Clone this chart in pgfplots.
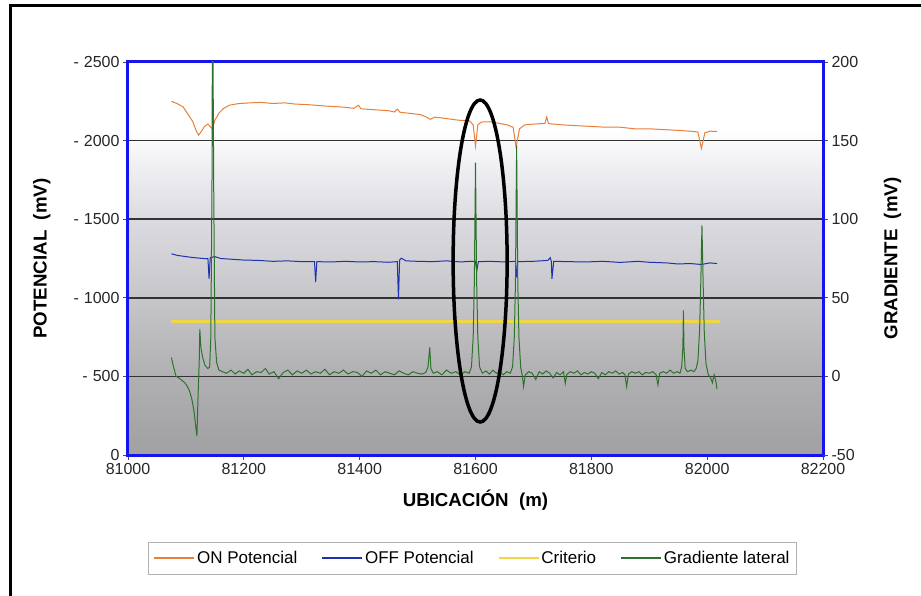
\documentclass[border=0pt]{standalone}
\usepackage{fontspec}
\setmainfont{Liberation Sans}
\newfontfamily\vfont{Liberation Sans}
\usepackage{pgfplots}
\pgfplotsset{compat=1.18}
\definecolor{oncol}{RGB}{232,128,58}
\definecolor{offcol}{RGB}{30,50,175}
\definecolor{critcol}{RGB}{240,215,70}
\definecolor{gradcol}{RGB}{45,115,45}
\definecolor{frameblue}{RGB}{20,20,235}
\definecolor{bgA}{RGB}{163,163,165}
\definecolor{bgB}{RGB}{176,176,178}
\definecolor{bgC}{RGB}{198,198,202}
\definecolor{bgD}{RGB}{218,218,224}
\definecolor{bgE}{RGB}{238,238,242}
\pgfdeclareverticalshading{plotbg}{100bp}{color(0bp)=(bgA); color(25bp)=(bgA); color(27bp)=(bgA); color(35bp)=(bgB); color(44.7bp)=(bgC); color(54.9bp)=(bgD); color(61.3bp)=(bgE); color(66.5bp)=(white); color(75bp)=(white); color(100bp)=(white)}
\newcommand{\negl}[1]{-\hspace{5pt}#1}
\begin{document}
\begin{tikzpicture}
\pgfplotsset{
  common/.style={
    scale only axis, width=695pt, height=393pt,
    xmin=81000, xmax=82200,
    scaled x ticks=false,
    /pgf/number format/1000 sep={},
    /pgf/number format/assume math mode=true,
    tick label style={font=\fontsize{16}{19}\selectfont, text=black!85},
    tick align=outside,
    major tick length=5pt,
    tick style={black!70, line width=0.8pt},
    axis line style={frameblue, line width=3pt},
  }
}
\begin{axis}[common,
  ymin=-2500, ymax=0, y dir=reverse,
  xtick={81000,81200,...,82200},
  ytick={-2500,-2000,-1500,-1000,-500,0},
  yticklabels={\negl{2500},\negl{2000},\negl{1500},\negl{1000},\negl{500},0},
  xtick pos=bottom, ytick pos=left,
  ymajorgrids,
  major grid style={black!80, line width=1.5pt},
  axis background/.style={shading=plotbg},
  xlabel={UBICACIÓN\ \ (m)},
  ylabel={POTENCIAL\ \ (mV)},
  every axis x label/.style={at={(axis description cs:0.5,-0.1145)}, anchor=center, font=\fontsize{18.7}{22}\selectfont\bfseries},
  every axis y label/.style={at={(axis description cs:-0.124,0.5)}, anchor=center, rotate=90, font=\vfont\fontsize{18.7}{22}\selectfont\bfseries},
]
% ON Potencial
\addplot[oncol, line width=1pt] coordinates {
(81075,-2250) (81085,-2235) (81095,-2215) (81105,-2160) (81112,-2120) (81118,-2060)
(81122,-2035) (81127,-2060) (81132,-2090) (81138,-2105) (81143,-2085) (81146,-2075)
(81150,-2130) (81157,-2175) (81165,-2205) (81175,-2225) (81190,-2235) (81210,-2240)
(81230,-2243) (81250,-2236) (81270,-2240) (81290,-2232) (81305,-2230) (81320,-2226)
(81340,-2220) (81360,-2216) (81375,-2212) (81390,-2205) (81398,-2225) (81402,-2203)
(81410,-2200) (81430,-2195) (81450,-2190) (81460,-2182) (81465,-2200) (81470,-2180)
(81490,-2172) (81505,-2165) (81515,-2150) (81522,-2135) (81530,-2150) (81550,-2140)
(81570,-2130) (81590,-2125) (81596,-2100) (81600,-1965) (81604,-2100) (81610,-2118)
(81625,-2120) (81640,-2110) (81655,-2100) (81665,-2085) (81670,-1960) (81676,-2075)
(81685,-2100) (81700,-2105) (81720,-2110) (81723,-2150) (81726,-2108) (81750,-2100)
(81775,-2095) (81800,-2090) (81825,-2085) (81850,-2085) (81875,-2075) (81900,-2075)
(81925,-2070) (81950,-2065) (81970,-2060) (81984,-2055) (81990,-1950) (81996,-2050)
(82005,-2060) (82017,-2058)
};
% OFF Potencial
\addplot[offcol, line width=1pt] coordinates {
(81075,-1280) (81085,-1270) (81100,-1262) (81115,-1255) (81130,-1250) (81138,-1250)
(81140,-1120) (81142,-1255) (81150,-1262) (81160,-1250) (81180,-1245) (81200,-1240)
(81225,-1238) (81250,-1232) (81275,-1235) (81300,-1230) (81322,-1230) (81324,-1100)
(81326,-1230) (81350,-1228) (81375,-1232) (81400,-1228) (81425,-1230) (81450,-1226)
(81465,-1230) (81467,-990) (81469,-1240) (81472,-1252) (81480,-1235) (81500,-1232)
(81525,-1230) (81550,-1235) (81575,-1228) (81590,-1232) (81600,-1232) (81602,-1170)
(81605,-1230) (81625,-1232) (81650,-1228) (81669,-1232) (81671,-1130) (81673,-1230)
(81700,-1232) (81725,-1238) (81729,-1255) (81731,-1232) (81732,-1120) (81735,-1232)
(81760,-1230) (81790,-1228) (81820,-1232) (81850,-1225) (81880,-1232) (81900,-1226)
(81930,-1222) (81950,-1215) (81970,-1218) (81990,-1212) (82005,-1222) (82017,-1218)
};
% Criterio
\addplot[critcol, line width=2.4pt] coordinates {(81075,-850) (82022,-850)};
\end{axis}
\begin{axis}[common,
  ymin=-50, ymax=200,
  axis x line=none, axis y line*=right,
  ytick={-50,0,50,100,150,200},
  ylabel={GRADIENTE\ \ (mV)},
  every axis y label/.style={at={(axis description cs:1.1,0.5)}, anchor=center, rotate=90, font=\vfont\fontsize{18.7}{22}\selectfont\bfseries},
  legend columns=4,
  legend style={at={(axis description cs:0.4957,-0.2206)}, anchor=north,
    draw=black!30, line width=0.9pt, fill=white,
    font=\fontsize{17}{20}\selectfont,
    inner xsep=5pt, inner ysep=7pt,
    /tikz/every even column/.append style={column sep=22pt}},
  legend image code/.code={\draw[#1, line width=1.7pt] (0pt,0pt) -- (40pt,0pt);},
]
\addlegendimage{oncol}
\addlegendentry{ON Potencial}
\addlegendimage{offcol}
\addlegendentry{OFF Potencial}
\addlegendimage{critcol}
\addlegendentry{Criterio}
\addplot[gradcol, line width=1pt] coordinates {
(81075,12) (81078,7) (81083,0) (81088,-1) (81093,-2.5) (81098,-4) (81102,-6) (81106,-9)
(81110,-14) (81114,-22) (81117,-32) (81119,-38) (81121,-12) (81123,10) (81124,30) (81126,18)
(81129,12) (81133,7) (81138,5) (81141,6) (81143,25) (81145,120) (81146,260) (81148,120)
(81150,25) (81153,9) (81157,4) (81163,3) (81170,2) (81178,4) (81185,1.5) (81192,3.5)
(81200,2) (81207,4.5) (81214,1) (81222,3) (81230,2.5) (81237,5) (81244,1.5) (81252,3)
(81260,-1.5) (81268,2.5) (81276,4) (81284,1) (81292,3.5) (81300,2) (81308,4) (81316,1.5)
(81324,3) (81332,2) (81340,4.5) (81348,1) (81356,3) (81364,2) (81372,4) (81380,1.5)
(81388,3) (81396,2.5) (81404,0) (81412,3.5) (81420,2) (81428,4) (81436,1) (81444,3)
(81452,2) (81460,1) (81468,3.5) (81476,2) (81484,1) (81492,3) (81500,2) (81508,1.5)
(81514,2.5) (81518,6) (81521,18.5) (81523,5) (81527,2) (81534,3) (81542,1) (81550,4)
(81558,2) (81566,3) (81574,1) (81582,3) (81589,2) (81593,6) (81596,25) (81598,60)
(81600,136) (81602,60) (81604,25) (81607,6) (81612,2) (81618,3.5) (81624,1.5) (81630,4)
(81636,2) (81642,3) (81648,1) (81654,3) (81660,2) (81664,6) (81667,25) (81669,60)
(81671,147) (81673,60) (81675,25) (81678,6) (81681,0) (81683,-6.5) (81686,1) (81692,3)
(81698,2) (81704,-2) (81710,3) (81716,1.5) (81722,3.5) (81728,2) (81734,-1) (81740,2.5)
(81746,1) (81752,3) (81755,-4.5) (81758,1.5) (81764,3) (81770,2) (81776,3.5) (81782,1)
(81788,2.5) (81794,1.5) (81800,3) (81806,2) (81812,-1.5) (81818,2.5) (81824,1) (81830,3)
(81836,2) (81842,3.5) (81848,1.5) (81854,2.5) (81858,1) (81861,-6.5) (81864,1.5) (81870,3)
(81876,2) (81882,3) (81888,1) (81894,2.5) (81900,2) (81906,3) (81912,1) (81915,-5.5)
(81918,2) (81924,3) (81930,2) (81936,4) (81942,2) (81948,3) (81953,2) (81956,6)
(81958,18) (81959,42) (81960,18) (81962,5) (81966,3) (81972,4) (81977,3) (81981,5)
(81984,10) (81987,30) (81989,60) (81991,96) (81993,60) (81995,28) (81998,8) (82002,1)
(82006,-1) (82009,-4) (82012,1) (82015,-3) (82017,-8)
};
\addlegendentry{Gradiente lateral}
\draw[black, line width=3.5pt] (axis cs:81608,73.4) ellipse [x radius=27pt, y radius=161pt];
\end{axis}
\draw[black, line width=3pt] (-117.5pt,-141pt) -- (-117.5pt,449.5pt) -- (793pt,449.5pt);
\pgfresetboundingbox
\useasboundingbox (-128pt,-141pt) rectangle (793pt,455pt);
\end{tikzpicture}
\end{document}
